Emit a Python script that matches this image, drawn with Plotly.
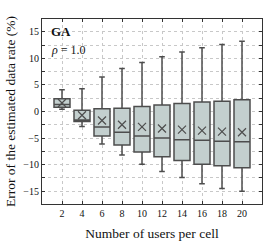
import plotly.graph_objects as go

users = [2, 4, 6, 8, 10, 12, 14, 16, 18, 20]
upper = [4.1, 4.3, 6.5, 8.1, 9.2, 10.3, 11.2, 12.0, 12.6, 13.2]
q3 = [2.4, 0.25, 0.5, 0.6, 0.95, 1.2, 1.5, 1.8, 1.95, 2.2]
median = [1.3, -1.6, -2.9, -3.9, -4.6, -5.0, -5.3, -5.4, -5.6, -5.7]
q1 = [0.8, -1.9, -4.6, -6.3, -7.6, -8.5, -9.2, -9.9, -10.2, -10.6]
lower = [0.4, -2.8, -6.1, -8.2, -9.9, -11.3, -12.4, -13.6, -14.5, -15.0]
mean = [1.6, -0.7, -1.7, -2.5, -2.9, -3.2, -3.4, -3.6, -3.8, -3.9]

line_c = "#4d4d4d"
fill_c = "#c3cfce"
font = "Liberation Serif"

fig = go.Figure()
fig.add_trace(go.Box(
    x=users, q1=q1, median=median, q3=q3, lowerfence=lower, upperfence=upper,
    width=1.6, whiskerwidth=0.35, fillcolor=fill_c,
    line=dict(color=line_c, width=1.5), boxpoints=False, showlegend=False,
))
fig.add_trace(go.Scatter(
    x=users, y=mean, mode="markers", showlegend=False,
    marker=dict(symbol="x-thin-open", size=8, color=line_c, line=dict(color=line_c, width=1.2)),
))

fig.add_annotation(x=0.03, y=0.93, xref="paper", yref="paper", text="<b>GA</b>",
                   showarrow=False, xanchor="left", yanchor="middle",
                   font=dict(family=font, size=13, color="#111"))
fig.add_annotation(x=0.03, y=0.835, xref="paper", yref="paper", text="<i>ρ</i> = 1.0",
                   showarrow=False, xanchor="left", yanchor="middle",
                   font=dict(family=font, size=12, color="#111"))

grid = dict(showgrid=True, gridcolor="#c8c8c8", griddash="dot", gridwidth=1)
fig.update_xaxes(range=[0, 22], tickvals=users, ticks="inside", ticklen=3,
                 tickcolor="#333", mirror="allticks", showline=True, linecolor="#333",
                 linewidth=1.2, zeroline=False,
                 title=dict(text="Number of users per cell", font=dict(family=font, size=13.5, color="#111"), standoff=12),
                 tickfont=dict(family=font, size=10, color="#111"), **grid)
fig.update_yaxes(range=[-17.4, 17.4], tickvals=[-15, -10, -5, 0, 5, 10, 15], ticks="inside", ticklen=3,
                 tickcolor="#333", mirror="allticks", showline=True, linecolor="#333",
                 linewidth=1.2, zeroline=False,
                 minor=dict(dtick=2.5, tick0=0, ticks="inside", ticklen=3, tickcolor="#333",
                            showgrid=True, gridcolor="#c8c8c8", griddash="dot"),
                 title=dict(text="Error of the estimated data rate (%)", font=dict(family=font, size=13.5, color="#111"), standoff=4),
                 tickfont=dict(family=font, size=10, color="#111"), **grid)
fig.update_layout(width=263, height=241, margin=dict(l=42, r=1, t=19, b=37),
                  plot_bgcolor="white", paper_bgcolor="white")
fig.write_html("out.html", config={"displayModeBar": False},
               post_script="document.body.style.margin='0px';document.body.style.overflow='hidden';")
